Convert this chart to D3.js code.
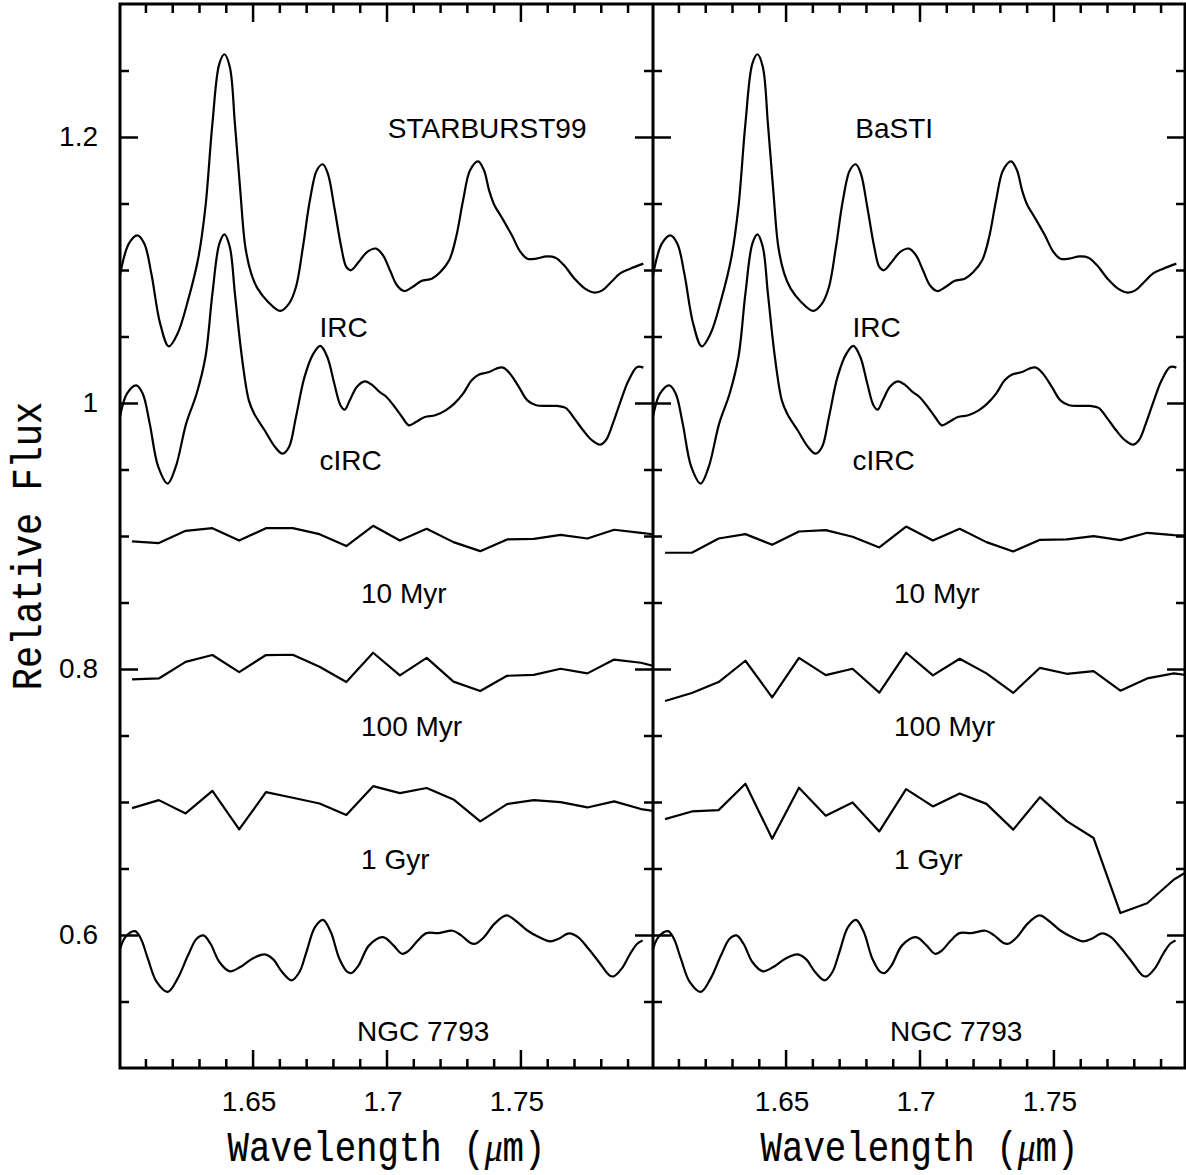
<!DOCTYPE html>
<html><head><meta charset="utf-8">
<script src="https://cdn.jsdelivr.net/npm/d3@7"></script>
<style>body{margin:0;background:#fff}</style>
</head><body><svg id="c" width="1186" height="1175"></svg>
<script>
// ---------- data ----------
const modelWl = [1.605,1.615,1.625,1.635,1.645,1.655,1.665,1.675,1.685,1.695,1.705,1.715,1.725,1.735,1.745,1.755,1.765,1.775,1.785,1.795,1.805];
const sb99_10Myr  = [0.8959,0.8947,0.9039,0.9059,0.8966,0.9059,0.9059,0.9014,0.8924,0.9077,0.8966,0.9054,0.8954,0.8886,0.8974,0.8979,0.9009,0.8981,0.9047,0.9024,0.9000];
const sb99_100Myr = [0.7922,0.7929,0.8054,0.8105,0.7977,0.8105,0.8107,0.8017,0.7902,0.8122,0.7952,0.8084,0.7905,0.7834,0.7949,0.7956,0.8002,0.7967,0.8071,0.8047,0.7996];
const sb99_1Gyr   = [0.6954,0.7014,0.6914,0.7084,0.6794,0.7074,0.7032,0.6989,0.6902,0.7119,0.7067,0.7105,0.7019,0.6854,0.6984,0.7014,0.6999,0.6959,0.7005,0.6947,0.6917];
const basti_10Myr  = [0.8874,0.8874,0.8981,0.9014,0.8934,0.9034,0.9044,0.8994,0.8914,0.9071,0.8966,0.9054,0.8954,0.8884,0.8971,0.8974,0.8999,0.8969,0.9024,0.9007,0.8998];
const basti_100Myr = [0.7759,0.7820,0.7902,0.8062,0.7786,0.8084,0.7954,0.8002,0.7822,0.8122,0.7952,0.8077,0.7967,0.7820,0.8009,0.7964,0.7984,0.7837,0.7929,0.7967,0.7940];
const basti_1Gyr   = [0.6871,0.6929,0.6939,0.7137,0.6724,0.7107,0.6897,0.6997,0.6779,0.7097,0.6967,0.7064,0.6986,0.6792,0.7037,0.6856,0.6729,0.6165,0.6239,0.6417,0.6538];

const ircWl = [1.6000,1.6038,1.6070,1.6096,1.6122,1.6155,1.6187,1.6220,1.6259,1.6298,1.6324,1.6350,1.6376,1.6395,1.6415,1.6434,1.6454,1.6473,1.6495,1.6519,1.6558,1.6603,1.6636,1.6662,1.6688,1.6714,1.6740,1.6762,1.6781,1.6805,1.6831,1.6850,1.6867,1.6896,1.6928,1.6961,1.6987,1.7013,1.7039,1.7065,1.7097,1.7130,1.7169,1.7201,1.7234,1.7260,1.7286,1.7312,1.7342,1.7364,1.7383,1.7403,1.7429,1.7468,1.7500,1.7526,1.7559,1.7598,1.7631,1.7663,1.7702,1.7741,1.7777,1.7806,1.7839,1.7871,1.7910,1.7959];
const ircFlux = [1.0910,1.1198,1.1261,1.1198,1.0973,1.0597,1.0426,1.0522,1.0772,1.1098,1.1474,1.2100,1.2552,1.2622,1.2527,1.2100,1.1599,1.1173,1.0973,1.0860,1.0760,1.0692,1.0747,1.0872,1.1173,1.1524,1.1750,1.1795,1.1725,1.1474,1.1173,1.1023,1.0998,1.1060,1.1136,1.1161,1.1110,1.0998,1.0885,1.0842,1.0872,1.0918,1.0935,1.0985,1.1073,1.1248,1.1524,1.1750,1.1817,1.1750,1.1599,1.1487,1.1399,1.1261,1.1136,1.1085,1.1085,1.1103,1.1093,1.1035,1.0935,1.0860,1.0830,1.0847,1.0910,1.0973,1.1010,1.1048];

const circWl = [1.6000,1.6031,1.6066,1.6090,1.6116,1.6148,1.6183,1.6213,1.6252,1.6291,1.6324,1.6350,1.6376,1.6395,1.6415,1.6434,1.6460,1.6486,1.6506,1.6545,1.6584,1.6612,1.6636,1.6662,1.6694,1.6727,1.6753,1.6779,1.6805,1.6828,1.6844,1.6863,1.6889,1.6919,1.6948,1.6974,1.7000,1.7026,1.7058,1.7084,1.7110,1.7143,1.7182,1.7221,1.7253,1.7286,1.7318,1.7344,1.7383,1.7409,1.7435,1.7461,1.7494,1.7526,1.7559,1.7598,1.7637,1.7669,1.7702,1.7734,1.7767,1.7797,1.7819,1.7845,1.7871,1.7904,1.7936,1.7959];
const circFlux = [0.9845,1.0070,1.0133,1.0070,0.9845,0.9519,0.9394,0.9519,0.9845,1.0070,1.0346,1.0822,1.1198,1.1268,1.1173,1.0822,1.0346,1.0020,0.9920,0.9795,0.9669,0.9619,0.9669,0.9895,1.0196,1.0371,1.0429,1.0346,1.0146,0.9983,0.9950,1.0020,1.0121,1.0163,1.0133,1.0083,1.0045,0.9983,0.9895,0.9832,0.9857,0.9895,0.9908,0.9945,0.9995,1.0070,1.0171,1.0213,1.0233,1.0258,1.0266,1.0221,1.0121,1.0020,0.9983,0.9978,0.9978,0.9963,0.9882,0.9795,0.9720,0.9687,0.9720,0.9845,0.9995,1.0171,1.0271,1.0266];

const ngcWl = [1.6000,1.6025,1.6061,1.6083,1.6109,1.6142,1.6183,1.6220,1.6259,1.6291,1.6317,1.6343,1.6376,1.6415,1.6454,1.6499,1.6545,1.6577,1.6610,1.6646,1.6675,1.6701,1.6733,1.6763,1.6792,1.6824,1.6854,1.6870,1.6896,1.6935,1.6987,1.7026,1.7058,1.7084,1.7117,1.7149,1.7195,1.7247,1.7279,1.7312,1.7331,1.7364,1.7403,1.7448,1.7481,1.7526,1.7565,1.7611,1.7643,1.7682,1.7715,1.7754,1.7793,1.7832,1.7848,1.7878,1.7910,1.7936,1.7956];
const ngcFlux = [0.5859,0.5984,0.6029,0.5972,0.5822,0.5647,0.5572,0.5672,0.5847,0.5972,0.5997,0.5934,0.5797,0.5727,0.5759,0.5822,0.5854,0.5817,0.5722,0.5659,0.5722,0.5872,0.6059,0.6114,0.6022,0.5822,0.5722,0.5714,0.5772,0.5922,0.5984,0.5922,0.5859,0.5884,0.5959,0.6014,0.6014,0.6032,0.5997,0.5942,0.5934,0.5984,0.6084,0.6147,0.6109,0.6034,0.5989,0.5952,0.5972,0.6012,0.5984,0.5897,0.5797,0.5697,0.5689,0.5747,0.5859,0.5934,0.5959];

const panelTitles = ["STARBURST99", "BaSTI"];
const titleX = [1.7005, 1.676];
const titleY = 1.199;
const curveLabels = ["IRC", "cIRC", "10 Myr", "100 Myr", "1 Gyr", "NGC 7793"];
const curveLabelX = [1.675, 1.675, 1.6905, 1.6905, 1.6905, 1.689];
const curveLabelY = [1.050, 0.9494, 0.850, 0.750, 0.650, 0.520];

const xMajorTicks = [1.65, 1.7, 1.75];
const xMinorTicks = [1.61,1.62,1.63,1.64,1.66,1.67,1.68,1.69,1.71,1.72,1.73,1.74,1.76,1.77,1.78,1.79];
const yMajorTicks = [0.6, 0.8, 1.0, 1.2];
const yMajorLabels = ["0.6", "0.8", "1", "1.2"];
const yMinorTicks = [0.55,0.65,0.7,0.75,0.85,0.9,0.95,1.05,1.1,1.15,1.25];

// ---------- layout ----------
const panelX0 = [120, 653];
const panelW = 533;
const yTop = 4, yBot = 1068;
const svg = d3.select('#c');
const y = d3.scaleLinear().domain([0.5, 1.3]).range([yBot, yTop]);
const lblFont = "'Liberation Sans', Arial, sans-serif";
const monoFont = "'Liberation Mono', 'Courier New', monospace";
const lblSize = 28;

const panels = [
  {models: [sb99_10Myr, sb99_100Myr, sb99_1Gyr]},
  {models: [basti_10Myr, basti_100Myr, basti_1Gyr]}
];

const defs = svg.append('defs');

panels.forEach((p, i) => {
  const x0 = panelX0[i];
  const x = d3.scaleLinear().domain([1.6005, 1.7995]).range([x0, x0 + panelW]);
  defs.append('clipPath').attr('id', 'clip' + i)
    .append('rect').attr('x', x0).attr('y', yTop).attr('width', panelW).attr('height', yBot - yTop);
  const g = svg.append('g');
  const cg = g.append('g').attr('clip-path', `url(#clip${i})`);

  const smooth = d3.line().x(d => x(d[0])).y(d => y(d[1])).curve(d3.curveCatmullRom.alpha(0.5));
  const poly = d3.line().x(d => x(d[0])).y(d => y(d[1]));

  const series = [
    {d: d3.zip(ircWl, ircFlux), gen: smooth},
    {d: d3.zip(circWl, circFlux), gen: smooth},
    {d: d3.zip(modelWl, p.models[0]), gen: poly},
    {d: d3.zip(modelWl, p.models[1]), gen: poly},
    {d: d3.zip(modelWl, p.models[2]), gen: poly},
    {d: d3.zip(ngcWl, ngcFlux), gen: smooth}
  ];
  series.forEach(s => {
    cg.append('path').attr('d', s.gen(s.d))
      .attr('fill', 'none').attr('stroke', '#000').attr('stroke-width', 2.2)
      .attr('stroke-linejoin', 'round');
  });

  // labels
  g.append('text').attr('x', x(titleX[i])).attr('y', y(titleY))
    .attr('font-family', lblFont).attr('font-size', lblSize).text(panelTitles[i]);
  curveLabels.forEach((t, k) => {
    g.append('text').attr('x', x(curveLabelX[k])).attr('y', y(curveLabelY[k]))
      .attr('font-family', lblFont).attr('font-size', lblSize).text(t);
  });

  // axes
  const styleAxis = sel => {
    sel.select('.domain').remove();
    sel.selectAll('line').attr('stroke', '#000').attr('stroke-width', 2.5);
    sel.selectAll('text').attr('font-family', lblFont).attr('font-size', lblSize).attr('fill', '#000');
  };
  // bottom
  g.append('g').attr('transform', `translate(0,${yBot})`)
    .call(d3.axisBottom(x).tickValues(xMajorTicks).tickSize(-18).tickPadding(23).tickFormat(d3.format('')))
    .call(styleAxis)
    .call(sel => sel.selectAll('text').attr('dx', -4));
  g.append('g').attr('transform', `translate(0,${yBot})`)
    .call(d3.axisBottom(x).tickValues(xMinorTicks).tickSize(-9).tickFormat(''))
    .call(styleAxis);
  // top
  g.append('g').attr('transform', `translate(0,${yTop})`)
    .call(d3.axisTop(x).tickValues(xMajorTicks).tickSize(-18).tickFormat(''))
    .call(styleAxis);
  g.append('g').attr('transform', `translate(0,${yTop})`)
    .call(d3.axisTop(x).tickValues(xMinorTicks).tickSize(-9).tickFormat(''))
    .call(styleAxis);
  // left side of panel
  g.append('g').attr('transform', `translate(${x0},0)`)
    .call(d3.axisLeft(y).tickValues(yMajorTicks).tickSize(-18).tickPadding(22)
      .tickFormat((d, k) => i === 0 ? yMajorLabels[k] : ''))
    .call(styleAxis);
  g.append('g').attr('transform', `translate(${x0},0)`)
    .call(d3.axisLeft(y).tickValues(yMinorTicks).tickSize(-9).tickFormat(''))
    .call(styleAxis);
  // right side of panel
  const xr = i === 0 ? x0 + panelW : 1185;
  g.append('g').attr('transform', `translate(${xr},0)`)
    .call(d3.axisRight(y).tickValues(yMajorTicks).tickSize(-18).tickFormat(''))
    .call(styleAxis);
  g.append('g').attr('transform', `translate(${xr},0)`)
    .call(d3.axisRight(y).tickValues(yMinorTicks).tickSize(-9).tickFormat(''))
    .call(styleAxis);

  // x title (monospace, horizontally condensed)
  const xt = g.append('text')
    .attr('transform', `translate(${x0 + panelW / 2},1161) scale(0.85,1)`)
    .attr('text-anchor', 'middle')
    .attr('font-family', monoFont).attr('font-size', 42)
    .attr('stroke', '#000').attr('stroke-width', 0.2);
  xt.append('tspan').text('Wavelength (');
  xt.append('tspan').attr('font-family', "'Liberation Serif', serif").attr('font-style', 'italic').text('\u03bc');
  xt.append('tspan').text('m)');
});

// frame
svg.append('rect').attr('x', 120).attr('y', yTop).attr('width', 1185 - 120).attr('height', yBot - yTop)
  .attr('fill', 'none').attr('stroke', '#000').attr('stroke-width', 3);
svg.append('line').attr('x1', 653).attr('x2', 653).attr('y1', yTop).attr('y2', yBot)
  .attr('stroke', '#000').attr('stroke-width', 3);

// y title
svg.append('text').attr('transform', 'translate(41,546) rotate(-90) scale(0.88,1)')
  .attr('text-anchor', 'middle')
  .attr('font-family', monoFont).attr('font-size', 42)
  .attr('stroke', '#000').attr('stroke-width', 0.2)
  .text('Relative Flux');
</script>
</body></html>
